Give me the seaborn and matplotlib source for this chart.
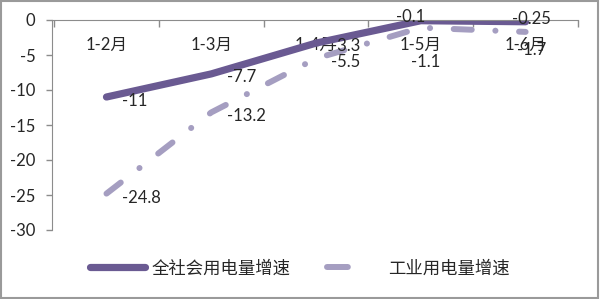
import matplotlib
matplotlib.use("Agg")
import matplotlib.pyplot as plt
import seaborn as sns
import pandas as pd
from matplotlib.patches import Rectangle

categories = ["1-2月", "1-3月", "1-4月", "1-5月", "1-6月"]
total_growth = [-11, -7.7, -3.3, -0.1, -0.25]
industry_growth = [-24.8, -13.2, -5.5, -1.1, -1.7]
series_names = ["全社会用电量增速", "工业用电量增速"]
yticks = [0, -5, -10, -15, -20, -25, -30]

sns.set_style("white")
plt.rcParams['font.family'] = ['Lato', 'Noto Sans CJK SC', 'DejaVu Sans']
plt.rcParams['lines.scale_dashes'] = False

df = pd.DataFrame({
    "x": list(range(len(categories))) * 2,
    "value": total_growth + industry_growth,
    "series": [series_names[0]] * len(categories) + [series_names[1]] * len(categories),
})

fig = plt.figure(figsize=(6.0, 2.99), dpi=100)
ax = fig.add_axes([52/600, 1-230/299, (578-52)/600, 210/299])

c_main = "#6a5a92"
c_ind = "#a59ec1"
sns.lineplot(data=df, x="x", y="value", hue="series", palette=[c_main, c_ind],
             ax=ax, legend=False, sort=False)
l1, l2 = ax.get_lines()[:2]
l1.set_linewidth(5.2); l1.set_solid_capstyle("round"); l1.set_solid_joinstyle("round")
l2.set_linewidth(4.3); l2.set_dashes((13, 17, 0.1, 17)); l2.set_dash_capstyle("round")

ax.set_xlim(-0.52, 4.48)
ax.set_ylim(-30, 0)
ax.set_yticks(yticks)
ax.set_yticklabels([str(v) for v in yticks], fontsize=12)
ax.tick_params(axis="y", direction="out", length=4, width=1, color="#8c8c8c", pad=8, left=True)

ax.spines["bottom"].set_position(("data", 0))
for s in ["top", "right"]:
    ax.spines[s].set_visible(False)
ax.spines["bottom"].set_color("#8c8c8c")
ax.spines["left"].set_color("#8c8c8c")

ax.set_xticks([i - 0.5 for i in range(len(categories) + 1)])
ax.set_xticklabels([])
ax.tick_params(axis="x", which="major", direction="out", length=5, width=1, color="#8c8c8c", bottom=True)
ax.set_xticks(range(len(categories)), minor=True)
ax.set_xticklabels(categories, minor=True, fontsize=12)
ax.tick_params(axis="x", which="minor", length=0, pad=12)
ax.set_xlabel(""); ax.set_ylabel("")

# data labels (offsets in points)
off_main = [(11, -3), (11.5, -2), (11, -2), (-18, 3), (-10, 2)]
off_ind = [(11.5, -3), (11.5, -2.5), (11, -2.5), (-7, -25), (-6, -13)]
for i, v in enumerate(total_growth):
    ax.annotate(f"{v:g}", (i, v), xytext=off_main[i], textcoords="offset points",
                fontsize=12, va="center", ha="left", annotation_clip=False)
for i, v in enumerate(industry_growth):
    ax.annotate(f"{v:g}", (i, v), xytext=off_ind[i], textcoords="offset points",
                fontsize=12, va="center", ha="left", annotation_clip=False)

handles = [plt.Line2D([], [], color=c_main, lw=5.2, solid_capstyle="round"),
           plt.Line2D([], [], color=c_ind, lw=4.3, dashes=(15, 40), dash_capstyle="round")]
fig.legend(handles, series_names, loc="center", bbox_to_anchor=(0.5, 1-268/299), ncol=2,
           frameon=False, fontsize=12.5, handlelength=3.2, handletextpad=0.35, columnspacing=2.1)

fig.patches.append(Rectangle((0.002, 0.003), 0.995, 0.994, transform=fig.transFigure,
                             fill=False, edgecolor="#9a9a9a", linewidth=1.5))

fig.savefig("out.png", dpi=100)
